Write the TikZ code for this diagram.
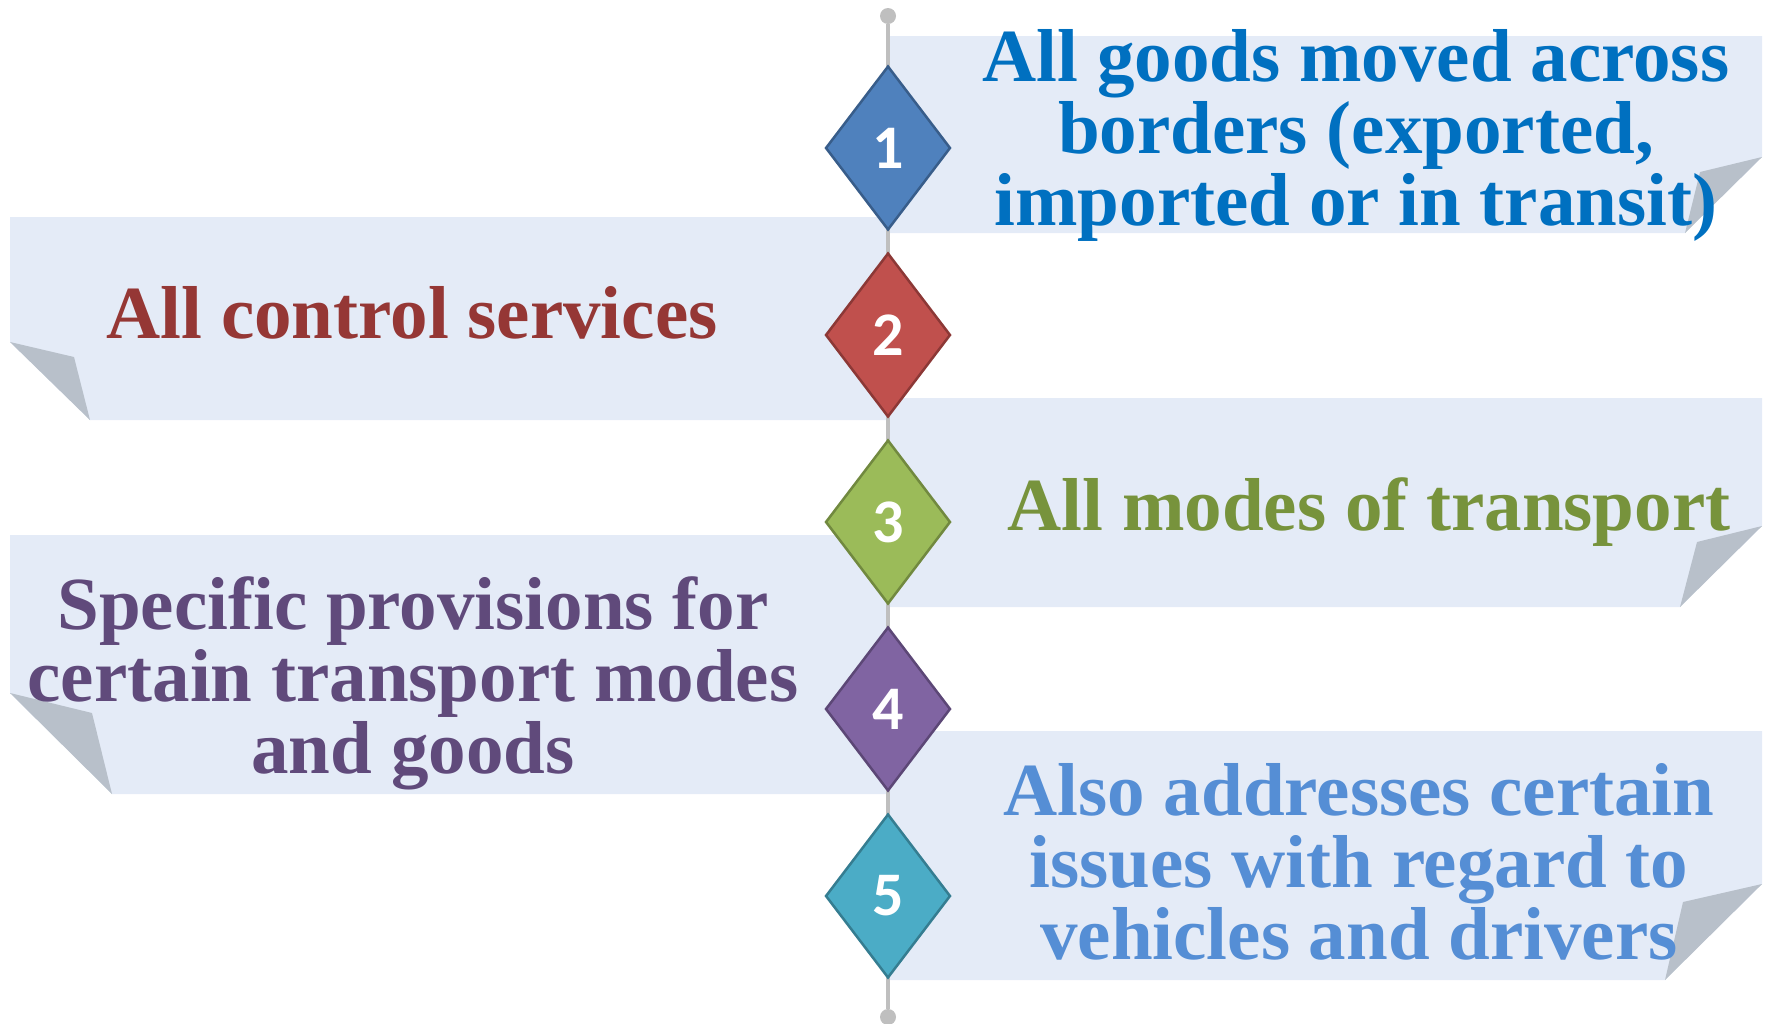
\documentclass[tikz,border=0pt]{standalone}
\usepackage{fontspec}
\setmainfont{Liberation Serif}
\newfontfamily\numfont{Carlito}
\usetikzlibrary{shapes.geometric}
\definecolor{boxfill}{HTML}{E4EBF7}
\definecolor{foldc}{HTML}{B8C0CA}
\definecolor{linec}{HTML}{BFBFBF}
\definecolor{fA}{HTML}{4F81BD}\definecolor{bA}{HTML}{385D8A}\definecolor{tA}{HTML}{0070C0}
\definecolor{fB}{HTML}{C0504D}\definecolor{bB}{HTML}{8C3836}\definecolor{tB}{HTML}{953735}
\definecolor{fC}{HTML}{9BBB59}\definecolor{bC}{HTML}{71893F}\definecolor{tC}{HTML}{77933C}
\definecolor{fD}{HTML}{8064A2}\definecolor{bD}{HTML}{5C4776}\definecolor{tD}{HTML}{604A7B}
\definecolor{fE}{HTML}{4BACC6}\definecolor{bE}{HTML}{357D91}\definecolor{tE}{HTML}{558ED5}
\begin{document}
\begin{tikzpicture}[x=1pt,y=-1pt,
  banner/.style={fill=boxfill,draw=none},
  fold/.style={fill=foldc,draw=none},
  gem/.style={diamond,minimum width=125pt,minimum height=164pt,inner sep=0pt,
    line width=2.5pt,text=white,font=\numfont\bfseries\fontsize{62}{62}\selectfont},
  label/.style={font=\bfseries\fontsize{75}{72}\selectfont,align=center,inner sep=0pt},
  stem/.style={draw=linec,line width=4pt},
  knob/.style={circle,fill=linec,minimum size=16pt,inner sep=0pt}]
\useasboundingbox (0,0) rectangle (1769,1023);
% banners
\path[banner] (888,36) -- (1762,36) -- (1762,157) -- (1685,233) -- (888,233) -- cycle;
\path[fold] (1762,157) -- (1700,172) -- (1685,233) -- cycle;
\path[banner] (10,217) -- (888,217) -- (888,420) -- (90,420) -- (10,342) -- cycle;
\path[fold] (10,342) -- (74,357) -- (90,420) -- cycle;
\path[banner] (888,398) -- (1762,398) -- (1762,526) -- (1680,607) -- (888,607) -- cycle;
\path[fold] (1762,526) -- (1697,542) -- (1680,607) -- cycle;
\path[banner] (10,535) -- (888,535) -- (888,794) -- (112,794) -- (10,693) -- cycle;
\path[fold] (10,693) -- (92,713) -- (112,794) -- cycle;
\path[banner] (888,731) -- (1762,731) -- (1762,884) -- (1665,980) -- (888,980) -- cycle;
\path[fold] (1762,884) -- (1683,902) -- (1665,980) -- cycle;
% stem
\node[knob] (top) at (888,16) {};
\node[knob] (bot) at (888,1017) {};
\draw[stem] (top) -- (bot);
% diamonds
\node[gem,fill=fA,draw=bA] (d1) at (888,148) {1};
\node[gem,fill=fB,draw=bB] (d2) at (888,335) {2};
\node[gem,fill=fC,draw=bC] (d3) at (888,522) {3};
\node[gem,fill=fD,draw=bD] (d4) at (888,709) {4};
\node[gem,fill=fE,draw=bE] (d5) at (888,896) {5};
% texts
\node[label,text=tA] (t1) at (1356,135) {All goods moved across\\borders (exported,\\imported or in transit)};
\node[label,text=tB,anchor=base] (t2) at (412,338) {All control services};
\node[label,text=tC,anchor=base] (t3) at (1369,530) {All modes of transport};
\node[label,text=tD] (t4) at (413,683) {Specific provisions for\\certain transport modes\\and goods};
\node[label,text=tE] (t5) at (1359,862) {Also addresses certain\\issues with regard to\\vehicles and drivers};
\end{tikzpicture}
\end{document}
